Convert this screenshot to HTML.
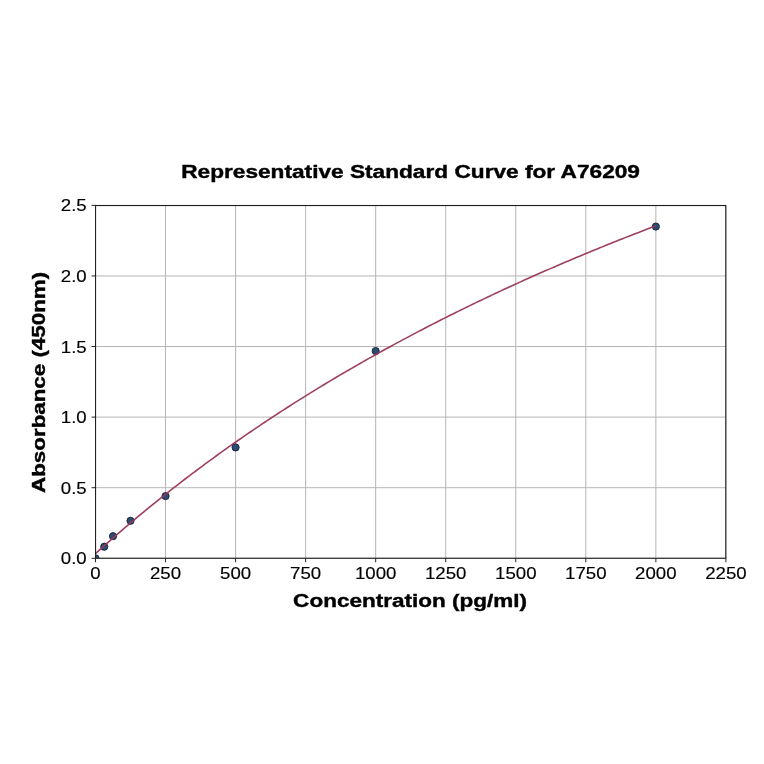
<!DOCTYPE html><html><head><meta charset="utf-8"><style>html,body{margin:0;padding:0;background:#fff;width:764px;height:764px;overflow:hidden}svg{display:block;will-change:transform}text{font-family:"Liberation Sans",sans-serif;fill:#000}</style></head><body>
<svg width="764" height="764" viewBox="0 0 764 764">
<rect width="764" height="764" fill="#fff"/>
<line x1="95.50" y1="205.35" x2="95.50" y2="558.30" stroke="#b5b5b5" stroke-width="1.0"/>
<line x1="165.54" y1="205.35" x2="165.54" y2="558.30" stroke="#b5b5b5" stroke-width="1.0"/>
<line x1="235.59" y1="205.35" x2="235.59" y2="558.30" stroke="#b5b5b5" stroke-width="1.0"/>
<line x1="305.63" y1="205.35" x2="305.63" y2="558.30" stroke="#b5b5b5" stroke-width="1.0"/>
<line x1="375.68" y1="205.35" x2="375.68" y2="558.30" stroke="#b5b5b5" stroke-width="1.0"/>
<line x1="445.72" y1="205.35" x2="445.72" y2="558.30" stroke="#b5b5b5" stroke-width="1.0"/>
<line x1="515.77" y1="205.35" x2="515.77" y2="558.30" stroke="#b5b5b5" stroke-width="1.0"/>
<line x1="585.81" y1="205.35" x2="585.81" y2="558.30" stroke="#b5b5b5" stroke-width="1.0"/>
<line x1="655.86" y1="205.35" x2="655.86" y2="558.30" stroke="#b5b5b5" stroke-width="1.0"/>
<line x1="725.90" y1="205.35" x2="725.90" y2="558.30" stroke="#b5b5b5" stroke-width="1.0"/>
<line x1="95.50" y1="558.30" x2="725.90" y2="558.30" stroke="#b5b5b5" stroke-width="1.0"/>
<line x1="95.50" y1="487.71" x2="725.90" y2="487.71" stroke="#b5b5b5" stroke-width="1.0"/>
<line x1="95.50" y1="417.12" x2="725.90" y2="417.12" stroke="#b5b5b5" stroke-width="1.0"/>
<line x1="95.50" y1="346.53" x2="725.90" y2="346.53" stroke="#b5b5b5" stroke-width="1.0"/>
<line x1="95.50" y1="275.94" x2="725.90" y2="275.94" stroke="#b5b5b5" stroke-width="1.0"/>
<line x1="95.50" y1="205.35" x2="725.90" y2="205.35" stroke="#b5b5b5" stroke-width="1.0"/>
<defs><clipPath id="ax"><rect x="95.5" y="205.35" width="630.4" height="352.94999999999993"/></clipPath></defs>
<g clip-path="url(#ax)">
<circle cx="95.50" cy="558.30" r="3.6" fill="#294c70" stroke="#15233a" stroke-width="0.9"/>
<circle cx="104.26" cy="546.71" r="3.6" fill="#294c70" stroke="#15233a" stroke-width="0.9"/>
<circle cx="113.01" cy="536.19" r="3.6" fill="#294c70" stroke="#15233a" stroke-width="0.9"/>
<circle cx="130.52" cy="520.80" r="3.6" fill="#294c70" stroke="#15233a" stroke-width="0.9"/>
<circle cx="165.54" cy="496.11" r="3.6" fill="#294c70" stroke="#15233a" stroke-width="0.9"/>
<circle cx="235.59" cy="447.40" r="3.6" fill="#294c70" stroke="#15233a" stroke-width="0.9"/>
<circle cx="375.68" cy="351.03" r="3.6" fill="#294c70" stroke="#15233a" stroke-width="0.9"/>
<circle cx="655.86" cy="226.58" r="3.6" fill="#294c70" stroke="#15233a" stroke-width="0.9"/>
<path d="M95.40,553.70 L98.22,551.15 L101.03,548.62 L103.85,546.10 L106.66,543.59 L109.48,541.10 L112.29,538.63 L115.11,536.17 L117.92,533.72 L120.74,531.29 L123.55,528.87 L126.37,526.46 L129.18,524.07 L132.00,521.69 L134.82,519.32 L137.63,516.96 L140.45,514.62 L143.26,512.29 L146.08,509.97 L148.89,507.67 L151.71,505.37 L154.52,503.09 L157.34,500.82 L160.15,498.56 L162.97,496.32 L165.78,494.08 L168.60,491.86 L171.42,489.65 L174.23,487.45 L177.05,485.26 L179.86,483.08 L182.68,480.91 L185.49,478.76 L188.31,476.61 L191.12,474.48 L193.94,472.36 L196.75,470.24 L199.57,468.14 L202.38,466.05 L205.20,463.97 L208.02,461.90 L210.83,459.84 L213.65,457.79 L216.46,455.74 L219.28,453.71 L222.09,451.69 L224.91,449.68 L227.72,447.68 L230.54,445.69 L233.35,443.71 L236.17,441.74 L238.98,439.77 L241.80,437.82 L244.61,435.88 L247.43,433.94 L250.25,432.02 L253.06,430.10 L255.88,428.19 L258.69,426.29 L261.51,424.40 L264.32,422.52 L267.14,420.65 L269.95,418.79 L272.77,416.94 L275.58,415.09 L278.40,413.25 L281.21,411.42 L284.03,409.60 L286.85,407.79 L289.66,405.99 L292.48,404.19 L295.29,402.41 L298.11,400.63 L300.92,398.86 L303.74,397.10 L306.55,395.34 L309.37,393.60 L312.18,391.86 L315.00,390.13 L317.81,388.40 L320.63,386.69 L323.45,384.98 L326.26,383.28 L329.08,381.59 L331.89,379.90 L334.71,378.23 L337.52,376.56 L340.34,374.89 L343.15,373.24 L345.97,371.59 L348.78,369.95 L351.60,368.32 L354.41,366.69 L357.23,365.07 L360.05,363.46 L362.86,361.85 L365.68,360.26 L368.49,358.67 L371.31,357.08 L374.12,355.50 L376.94,353.93 L379.75,352.37 L382.57,350.81 L385.38,349.26 L388.20,347.71 L391.01,346.18 L393.83,344.65 L396.65,343.12 L399.46,341.60 L402.28,340.09 L405.09,338.59 L407.91,337.09 L410.72,335.59 L413.54,334.11 L416.35,332.63 L419.17,331.15 L421.98,329.68 L424.80,328.22 L427.61,326.76 L430.43,325.31 L433.25,323.87 L436.06,322.43 L438.88,321.00 L441.69,319.57 L444.51,318.15 L447.32,316.74 L450.14,315.33 L452.95,313.92 L455.77,312.53 L458.58,311.13 L461.40,309.75 L464.21,308.37 L467.03,306.99 L469.85,305.62 L472.66,304.26 L475.48,302.90 L478.29,301.54 L481.11,300.19 L483.92,298.85 L486.74,297.51 L489.55,296.18 L492.37,294.85 L495.18,293.53 L498.00,292.22 L500.81,290.90 L503.63,289.60 L506.45,288.30 L509.26,287.00 L512.08,285.71 L514.89,284.42 L517.71,283.14 L520.52,281.87 L523.34,280.59 L526.15,279.33 L528.97,278.07 L531.78,276.81 L534.60,275.56 L537.41,274.31 L540.23,273.07 L543.04,271.83 L545.86,270.60 L548.68,269.37 L551.49,268.14 L554.31,266.92 L557.12,265.71 L559.94,264.50 L562.75,263.29 L565.57,262.09 L568.38,260.90 L571.20,259.71 L574.01,258.52 L576.83,257.34 L579.64,256.16 L582.46,254.98 L585.28,253.81 L588.09,252.65 L590.91,251.48 L593.72,250.33 L596.54,249.17 L599.35,248.03 L602.17,246.88 L604.98,245.74 L607.80,244.61 L610.61,243.47 L613.43,242.35 L616.24,241.22 L619.06,240.10 L621.88,238.99 L624.69,237.87 L627.51,236.77 L630.32,235.66 L633.14,234.56 L635.95,233.47 L638.77,232.38 L641.58,231.29 L644.40,230.20 L647.21,229.12 L650.03,228.05 L652.84,226.97 L655.66,225.90" fill="none" stroke="#983559" stroke-width="1.6" stroke-opacity="0.95" stroke-linejoin="round" stroke-linecap="butt"/>
</g>
<rect x="95.55" y="205.55" width="630.25" height="352.70" fill="none" stroke="#202020" stroke-width="1.1"/>
<line x1="95.50" y1="558.25" x2="95.50" y2="562.25" stroke="#222" stroke-width="1.0"/>
<line x1="165.54" y1="558.25" x2="165.54" y2="562.25" stroke="#222" stroke-width="1.0"/>
<line x1="235.59" y1="558.25" x2="235.59" y2="562.25" stroke="#222" stroke-width="1.0"/>
<line x1="305.63" y1="558.25" x2="305.63" y2="562.25" stroke="#222" stroke-width="1.0"/>
<line x1="375.68" y1="558.25" x2="375.68" y2="562.25" stroke="#222" stroke-width="1.0"/>
<line x1="445.72" y1="558.25" x2="445.72" y2="562.25" stroke="#222" stroke-width="1.0"/>
<line x1="515.77" y1="558.25" x2="515.77" y2="562.25" stroke="#222" stroke-width="1.0"/>
<line x1="585.81" y1="558.25" x2="585.81" y2="562.25" stroke="#222" stroke-width="1.0"/>
<line x1="655.86" y1="558.25" x2="655.86" y2="562.25" stroke="#222" stroke-width="1.0"/>
<line x1="725.90" y1="558.25" x2="725.90" y2="562.25" stroke="#222" stroke-width="1.0"/>
<line x1="91.55" y1="558.30" x2="95.55" y2="558.30" stroke="#222" stroke-width="1.0"/>
<line x1="91.55" y1="487.71" x2="95.55" y2="487.71" stroke="#222" stroke-width="1.0"/>
<line x1="91.55" y1="417.12" x2="95.55" y2="417.12" stroke="#222" stroke-width="1.0"/>
<line x1="91.55" y1="346.53" x2="95.55" y2="346.53" stroke="#222" stroke-width="1.0"/>
<line x1="91.55" y1="275.94" x2="95.55" y2="275.94" stroke="#222" stroke-width="1.0"/>
<line x1="91.55" y1="205.35" x2="95.55" y2="205.35" stroke="#222" stroke-width="1.0"/>
<text transform="translate(95.50,578.90) scale(1.124,1)" font-size="16.6" stroke="#000" stroke-width="0.15" text-anchor="middle">0</text>
<text transform="translate(165.54,578.90) scale(1.124,1)" font-size="16.6" stroke="#000" stroke-width="0.15" text-anchor="middle">250</text>
<text transform="translate(235.59,578.90) scale(1.124,1)" font-size="16.6" stroke="#000" stroke-width="0.15" text-anchor="middle">500</text>
<text transform="translate(305.63,578.90) scale(1.124,1)" font-size="16.6" stroke="#000" stroke-width="0.15" text-anchor="middle">750</text>
<text transform="translate(375.68,578.90) scale(1.124,1)" font-size="16.6" stroke="#000" stroke-width="0.15" text-anchor="middle">1000</text>
<text transform="translate(445.72,578.90) scale(1.124,1)" font-size="16.6" stroke="#000" stroke-width="0.15" text-anchor="middle">1250</text>
<text transform="translate(515.77,578.90) scale(1.124,1)" font-size="16.6" stroke="#000" stroke-width="0.15" text-anchor="middle">1500</text>
<text transform="translate(585.81,578.90) scale(1.124,1)" font-size="16.6" stroke="#000" stroke-width="0.15" text-anchor="middle">1750</text>
<text transform="translate(655.86,578.90) scale(1.124,1)" font-size="16.6" stroke="#000" stroke-width="0.15" text-anchor="middle">2000</text>
<text transform="translate(725.90,578.90) scale(1.124,1)" font-size="16.6" stroke="#000" stroke-width="0.15" text-anchor="middle">2250</text>
<text transform="translate(86.70,564.40) scale(1.124,1)" font-size="16.6" stroke="#000" stroke-width="0.15" text-anchor="end">0.0</text>
<text transform="translate(86.70,493.81) scale(1.124,1)" font-size="16.6" stroke="#000" stroke-width="0.15" text-anchor="end">0.5</text>
<text transform="translate(86.70,423.22) scale(1.124,1)" font-size="16.6" stroke="#000" stroke-width="0.15" text-anchor="end">1.0</text>
<text transform="translate(86.70,352.63) scale(1.124,1)" font-size="16.6" stroke="#000" stroke-width="0.15" text-anchor="end">1.5</text>
<text transform="translate(86.70,282.04) scale(1.124,1)" font-size="16.6" stroke="#000" stroke-width="0.15" text-anchor="end">2.0</text>
<text transform="translate(86.70,211.45) scale(1.124,1)" font-size="16.6" stroke="#000" stroke-width="0.15" text-anchor="end">2.5</text>
<text transform="translate(410.57,178.30) scale(1.193,1)" font-size="19.0" font-weight="bold" stroke="#000" stroke-width="0.4" text-anchor="middle">Representative Standard Curve for A76209</text>
<text transform="translate(410.05,607.10) scale(1.1850330582443456,1)" font-size="19.0" font-weight="bold" stroke="#000" stroke-width="0.4" text-anchor="middle">Concentration (pg/ml)</text>
<text transform="translate(44.70,382.40) rotate(-90) scale(1.1769439728353142,1)" font-size="19.0" font-weight="bold" stroke="#000" stroke-width="0.4" text-anchor="middle">Absorbance (450nm)</text>
</svg></body></html>
